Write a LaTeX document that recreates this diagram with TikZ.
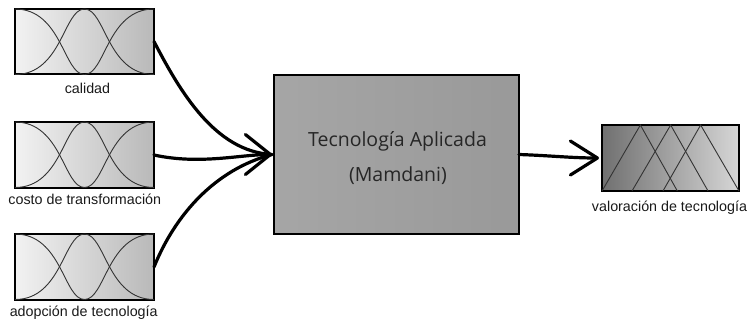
\documentclass[tikz,border=0pt]{standalone}
\usepackage{fontspec}
\setmainfont{Liberation Sans}
\newfontfamily\techfont{Open Sans}
\usetikzlibrary{arrows.meta,calc}
\tikzset{
  inbox/.style={draw=black, line width=2.4pt, left color=gray!10, right color=gray!55,
    minimum width=139pt, minimum height=65pt, outer sep=0pt, inner sep=0pt},
  techbox/.style={draw=black, line width=2pt, left color=gray!70, right color=gray!80,
    minimum width=245pt, minimum height=159pt, outer sep=0pt, inner sep=0pt},
  outbox/.style={draw=black, line width=2pt, left color=black!56, right color=black!16,
    minimum width=137pt, minimum height=66pt, outer sep=0pt, inner sep=0pt},
  mf/.style={draw=black!80, line width=0.9pt},
  conn/.style={draw=black, line width=3.2pt, line cap=round},
  lab/.style={font=\fontsize{14.3}{17}\selectfont, anchor=base, inner sep=0pt, text=black!90},
  techtxt/.style={font=\techfont\fontsize{19.5}{23}\selectfont, anchor=base, inner sep=0pt, text=black!85},
}
\begin{document}
\begin{tikzpicture}[x=1pt,y=-1pt]
\useasboundingbox (0,0) rectangle (752,322);
% boxes
\node[inbox] (in1) at (84.5,41.5) {};
\node[inbox, minimum height=66pt] (in2) at (84.5,155) {};
\node[inbox, minimum height=66pt] (in3) at (84.5,267) {};
\node[techbox] (tech) at (396.5,154.5) {};
\node[outbox] (out) at (670.5,158) {};
% membership curves
\foreach \b in {in1,in2,in3} {
  \begin{scope}[shift={(\b.north west)}, x=139pt, y=-65.5pt]
    \draw[mf] (0,0) .. controls (0.337,0) and (0.35,1) .. (0.5,1);
    \draw[mf] (0,1) .. controls (0.337,1) and (0.35,0) .. (0.5,0)
                    .. controls (0.65,0) and (0.663,1) .. (1,1);
    \draw[mf] (0.5,1) .. controls (0.65,1) and (0.663,0) .. (1,0);
  \end{scope}
}
\begin{scope}[shift={(out.north west)}, x=137pt, y=-66pt]
  \draw[mf] (0,1) -- (0.28,0) -- (0.55,1);
  \draw[mf] (0.219,1) -- (0.501,0) -- (0.774,1);
  \draw[mf] (0.445,1) -- (0.72,0) -- (1,1);
\end{scope}
% labels
\node[lab] (l1) at (87.5,93.3) {calidad};
\node[lab] (l2) at (84.8,204.3) {costo de transformación};
\node[lab] (l3) at (83.7,316.5) {adopción de tecnología};
\node[lab] (l4) at (669.5,211) {valoración de tecnología};
\node[techtxt] (t1) at (397.5,146) {Tecnología Aplicada};
\node[techtxt] (t2) at (398,181) {(Mamdani)};
% connectors
\coordinate (tip) at ($(tech.west)+(-2,0)$);
\draw[conn] (in1.east) .. controls +(26,50) and +(-57,-3) .. (tip);
\draw[conn] (in3.east) .. controls +(21,-52) and +(-57,15) .. (tip);
\draw[conn, -{Straight Barb[length=25pt,width=40pt,round]}] (in2.east) .. controls +(46,10) and +(-32,0) .. (tip);
\draw[conn, -{Straight Barb[length=27pt,width=34pt,round]}, shorten >=3pt] (tech.east) .. controls +(30,1) and +(-30,0) .. (out.west);
\end{tikzpicture}
\end{document}
